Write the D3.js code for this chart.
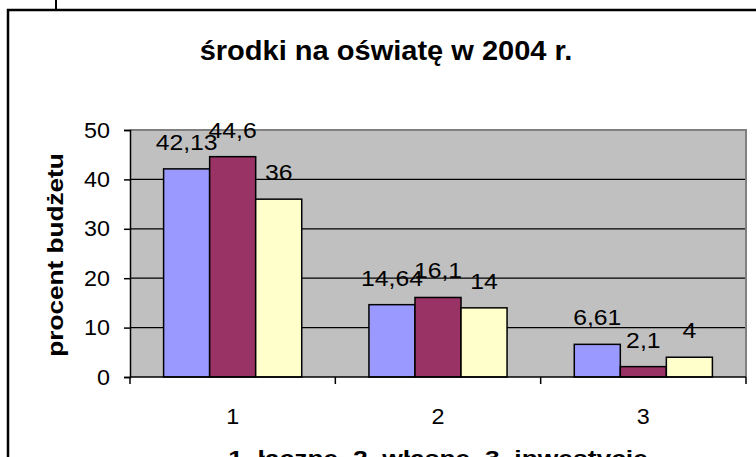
<!DOCTYPE html>
<html>
<head>
<meta charset="utf-8">
<script src="https://cdn.jsdelivr.net/npm/d3@7"></script>
<style>
  body { margin: 0; background: #fff; }
  svg { display: block; font-family: "Liberation Sans", Arial, sans-serif; }
</style>
</head>
<body>
<div id="chart"></div>
<script>
// dane
const categories = ["1", "2", "3"];
const seriesNames = ["łączne", "własne", "inwestycje"];
const seriesColors = ["#9999FF", "#993366", "#FFFFCC"];
const valuesA = [42.13, 14.64, 6.61];
const valuesB = [44.6, 16.1, 2.1];
const valuesC = [36, 14, 4];
const yTicks = [0, 10, 20, 30, 40, 50];
const labelsA = ["42,13", "14,64", "6,61"];
const labelsB = ["44,6", "16,1", "2,1"];
const labelsC = ["36", "14", "4"];

const width = 756, height = 457;
const plot = {left: 130, right: 746, top: 130, bottom: 377};

const svg = d3.select("#chart").append("svg")
    .attr("width", width)
    .attr("height", height);

// rozciąga tekst w poziomie (czcionka w oryginale jest szersza)
function widen(sel, k) {
    sel.each(function() {
        const len = this.getComputedTextLength();
        d3.select(this).attr("textLength", len * k).attr("lengthAdjust", "spacingAndGlyphs");
    });
}

// ramka
svg.append("path")
    .attr("d", `M8,${height + 5} V10 H${width + 5}`)
    .attr("fill", "none")
    .attr("stroke", "#000")
    .attr("stroke-width", 2.5);
svg.append("line")
    .attr("x1", 56).attr("x2", 56).attr("y1", 0).attr("y2", 10)
    .attr("stroke", "#000").attr("stroke-width", 2);

// skale
const x0 = d3.scaleBand()
    .domain(categories)
    .range([plot.left, plot.right]);
const x1 = d3.scaleBand()
    .domain(d3.range(3))
    .range([0, x0.bandwidth()])
    .paddingInner(0)
    .paddingOuter(0.73);
const y = d3.scaleLinear()
    .domain([0, 50])
    .range([plot.bottom, plot.top]);

// tło wykresu
svg.append("rect")
    .attr("x", plot.left).attr("y", plot.top)
    .attr("width", plot.right - plot.left)
    .attr("height", plot.bottom - plot.top)
    .attr("fill", "#C0C0C0");

// linie siatki
svg.append("g").selectAll("line")
    .data(yTicks.filter(t => t > 0 && t < 50))
    .join("line")
    .attr("x1", plot.left).attr("x2", plot.right)
    .attr("y1", d => y(d)).attr("y2", d => y(d))
    .attr("stroke", "#000").attr("stroke-width", 1.2);

// górna i prawa krawędź
svg.append("path")
    .attr("d", `M${plot.left},${plot.top} H${plot.right} V${plot.bottom}`)
    .attr("fill", "none").attr("stroke", "#808080").attr("stroke-width", 2);

// słupki
const series = [valuesA, valuesB, valuesC];
const labels = [labelsA, labelsB, labelsC];
const groups = svg.append("g").selectAll("g")
    .data(categories)
    .join("g")
    .attr("transform", d => `translate(${x0(d)},0)`);

groups.selectAll("rect")
    .data((c, ci) => series.map((s, si) => ({si, v: s[ci]})))
    .join("rect")
    .attr("x", d => x1(d.si))
    .attr("y", d => y(d.v))
    .attr("width", x1.bandwidth())
    .attr("height", d => y(0) - y(d.v))
    .attr("fill", d => seriesColors[d.si])
    .attr("stroke", "#000")
    .attr("stroke-width", 1.5);

// etykiety danych
groups.selectAll("text")
    .data((c, ci) => series.map((s, si) => ({si, v: s[ci], t: labels[si][ci]})))
    .join("text")
    .attr("x", d => x1(d.si) + x1.bandwidth() / 2)
    .attr("y", d => y(d.v) - 19)
    .attr("text-anchor", "middle")
    .attr("font-size", 22.5)
    .attr("fill", "#000")
    .text(d => d.t)
    .call(widen, 1.1);

// oś Y
const yAxis = svg.append("g")
    .attr("transform", `translate(${plot.left},0)`)
    .call(d3.axisLeft(y).tickValues(yTicks).tickSize(6).tickPadding(14).tickFormat(d3.format("d")));
yAxis.select(".domain").attr("stroke", "#000").attr("stroke-width", 1.5);
yAxis.selectAll(".tick line").attr("stroke", "#000").attr("stroke-width", 1.5);
yAxis.selectAll(".tick text")
    .attr("font-size", 22)
    .attr("font-family", "Liberation Sans, Arial, sans-serif")
    .attr("fill", "#000")
    .call(widen, 1.06);

// oś X
const xAxis = svg.append("g")
    .attr("transform", `translate(0,${plot.bottom})`)
    .call(d3.axisBottom(x0).tickSize(0).tickPadding(31));
xAxis.select(".domain").remove();
svg.append("line")
    .attr("x1", plot.left).attr("x2", plot.right)
    .attr("y1", plot.bottom).attr("y2", plot.bottom)
    .attr("stroke", "#000").attr("stroke-width", 1.5);
svg.append("g").selectAll("line")
    .data(categories.concat(["end"]))
    .join("line")
    .attr("x1", d => d === "end" ? plot.right : x0(d))
    .attr("x2", d => d === "end" ? plot.right : x0(d))
    .attr("y1", plot.bottom).attr("y2", plot.bottom + 7)
    .attr("stroke", "#000").attr("stroke-width", 1.5);
xAxis.selectAll(".tick text")
    .attr("font-size", 22)
    .attr("font-family", "Liberation Sans, Arial, sans-serif")
    .attr("fill", "#000")
    .call(widen, 1.06);

// tytuły
svg.append("text")
    .attr("x", (plot.left + plot.right) / 2 - 52)
    .attr("y", 60)
    .attr("text-anchor", "middle")
    .attr("font-size", 27)
    .attr("font-weight", "bold")
    .text("środki na oświatę w 2004 r.")
    .call(widen, 1.075);

svg.append("text")
    .attr("transform", `translate(63,255) rotate(-90)`)
    .attr("text-anchor", "middle")
    .attr("font-size", 22)
    .attr("font-weight", "bold")
    .text("procent budżetu")
    .call(widen, 1.19);

svg.append("text")
    .attr("x", (plot.left + plot.right) / 2)
    .attr("y", 466)
    .attr("text-anchor", "middle")
    .attr("font-size", 22)
    .attr("font-weight", "bold")
    .text("1. łączne, 2. własne, 3. inwestycje")
    .call(widen, 1.2);
</script>
</body>
</html>
